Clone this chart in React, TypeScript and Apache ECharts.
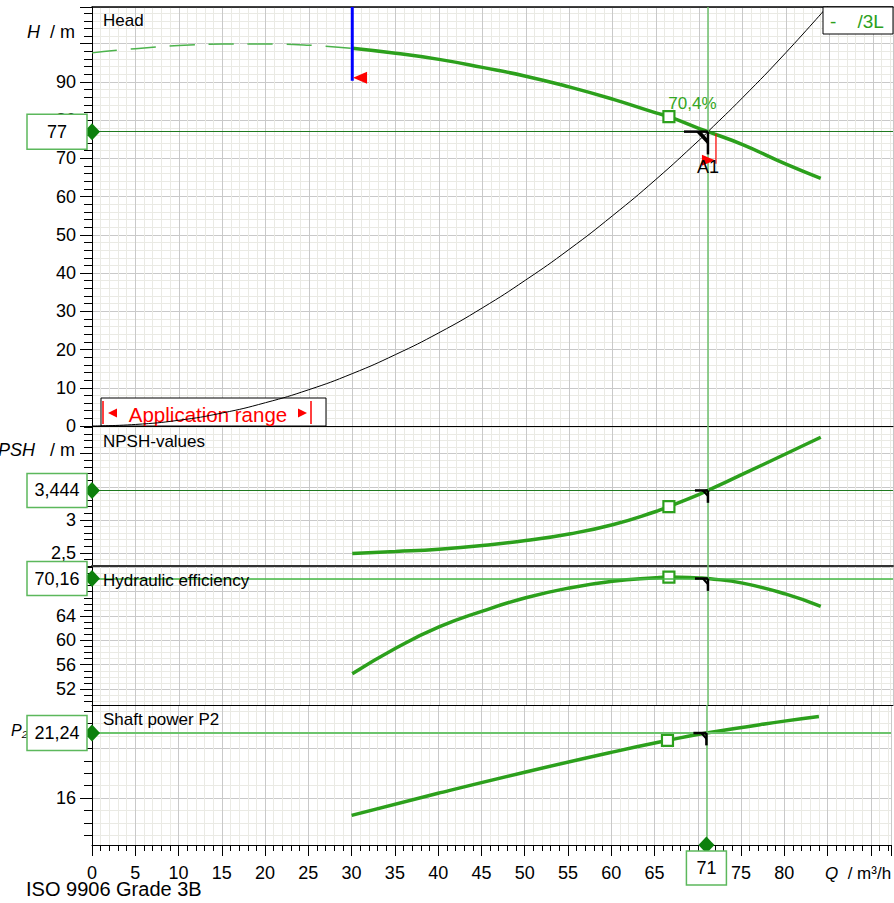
import React, { useEffect, useRef } from 'react';
import * as echarts from 'echarts';

// ---------- data ----------
const Q_MAX = 92.33;
const HEAD_MAX = 109.6;
const NPSH_MIN = 2.3;
const NPSH_MAX = 4.42;
const EFF_MIN = 49.37;
const EFF_MAX = 72.22;
const P_MIN = 12.21;
const P_MAX = 23.5;

const X_LABELS = [0, 5, 10, 15, 20, 25, 30, 35, 40, 45, 50, 55, 60, 65, 70, 75, 80];
const HEAD_LABELS = [0, 10, 20, 30, 40, 50, 60, 70, 80, 90];
const NPSH_MAJOR = [2.5, 3, 3.5, 4];
const NPSH_LABELS = [2.5, 3, 3.5];
const EFF_MAJOR = [52, 56, 60, 64, 68, 72];
const EFF_LABELS = [52, 56, 60, 64];
const EFF_MINOR = [50, 51, 52, 53, 54, 55, 56, 57, 58, 59, 60, 61, 62, 63, 64, 65, 66, 67, 68, 69, 70, 71, 72];
const P_MAJOR = [16, 20];
const P_LABELS = [16];
const P_MINOR = [13, 14, 15, 16, 17, 18, 19, 20, 21, 22, 23];

const HEAD_DASH_Q = [0, 5, 10, 15, 20, 25, 30];
const HEAD_DASH_H = [97.6, 98.7, 99.5, 99.9, 99.9, 99.6, 98.8];
const HEAD_Q = [30, 35, 40, 45, 50, 55, 60, 65, 66.5, 70, 71, 75, 80, 84];
const HEAD_H = [98.8, 97.5, 95.9, 93.8, 91.5, 88.7, 85.5, 81.9, 80.9, 77.8, 77, 73.6, 68.5, 64.8];

const SYS_Q = [0, 5, 10, 15, 20, 25, 30, 35, 40, 45, 50, 55, 60, 65, 70, 71, 75, 80, 85];
const SYS_H = [0, 0.4, 1.5, 3.4, 6.1, 9.5, 13.7, 18.7, 24.4, 30.9, 38.2, 46.2, 55.0, 64.5, 74.8, 77.0, 85.9, 97.7, 110.3];

const NPSH_Q = [30, 35, 40, 45, 50, 55, 60, 65, 66.5, 70, 71, 75, 80, 84];
const NPSH_V = [2.49, 2.52, 2.555, 2.61, 2.685, 2.785, 2.925, 3.125, 3.2, 3.385, 3.444, 3.69, 4.0, 4.25];

const EFF_Q = [30, 35, 40, 45, 50, 55, 60, 65, 66.5, 70, 71, 75, 80, 84];
const EFF_V = [54.5, 58.7, 62.2, 64.8, 67.0, 68.6, 69.7, 70.3, 70.4, 70.25, 70.16, 69.4, 67.6, 65.6];

const P_Q = [30, 40, 50, 60, 66.5, 71, 80, 84];
const P_V = [14.6, 16.38, 18.08, 19.68, 20.64, 21.24, 22.2, 22.58];

const OP_Q = 71;
const OP_H = 77;
const OP_NPSH = 3.444;
const OP_ETA = 70.16;
const OP_P = 21.24;
const BEP_Q = 66.5;
const BEP_H = 80.9;
const BEP_NPSH = 3.2;
const BEP_ETA = 70.4;
const BEP_P = 20.64;
const MIN_FLOW_Q = 30;
const MIN_FLOW_H = 90.3;
const MIN_FLOW_MARK = [30.9, 91.1];

// ---------- styles ----------
const GREEN = '#2ca01c';
const DARK_GREEN = '#0d800d';
const BOX_GREEN = '#5cb85c';
const MAJOR_GRID = '#c9c9c9';
const MINOR_GRID = '#eaeae4';
const FONT = '"Liberation Sans", Arial, Helvetica, sans-serif';

const zip = (xs: number[], ys: number[]) => xs.map((x, i) => [x, ys[i]]);
const comma = (v: number) => String(v).replace('.', ',');

const GRIDS = [
  { left: 92, right: 1, top: 7, height: 419 },
  { left: 92, right: 1, top: 426, height: 140 },
  { left: 92, right: 1, top: 566, height: 139 },
  { left: 92, right: 1, top: 705, height: 140 },
];

function xAxis(gi: number) {
  const bottom = gi === 3;
  return {
    type: 'value',
    gridIndex: gi,
    min: 0,
    max: Q_MAX,
    interval: 5,
    axisLine: { show: true, onZero: false, lineStyle: { color: gi === 1 ? '#333' : '#000', width: gi === 1 ? 2 : 1 } },
    axisTick: { show: bottom, length: 11, lineStyle: { color: '#000' } },
    minorTick: { show: bottom, splitNumber: 5, length: 6, lineStyle: { color: '#000' } },
    axisLabel: {
      show: bottom,
      fontSize: 18,
      color: '#000',
      fontFamily: FONT,
      margin: 19,
      formatter: (v: number) => (X_LABELS.includes(v) ? String(v) : ''),
    },
    splitLine: { show: true, lineStyle: { color: MAJOR_GRID, width: 1 } },
    minorSplitLine: { show: true, lineStyle: { color: MINOR_GRID, width: 1 } },
  };
}

const yBase = (gi: number, min: number, max: number) => ({
  type: 'value',
  gridIndex: gi,
  min,
  max,
  position: 'left',
  axisLine: { show: true, onZero: false, lineStyle: { color: '#000', width: 1 } },
});

const labelStyle = { fontSize: 18, color: '#000', fontFamily: FONT, margin: 16 };

function minorY(gi: number, min: number, max: number, extra: any) {
  return {
    ...yBase(gi, min, max),
    axisTick: { show: true, length: 8, lineStyle: { color: '#000' }, ...(extra.tick || {}) },
    axisLabel: { show: false },
    splitLine: { show: true, lineStyle: { color: MINOR_GRID } },
    ...(extra.axis || {}),
  };
}

function majorY(gi: number, min: number, max: number, ticks: number[], labels: number[]) {
  return {
    ...yBase(gi, min, max),
    axisTick: { show: true, length: 12, lineStyle: { color: '#000' }, customValues: ticks },
    axisLabel: { show: true, ...labelStyle, customValues: labels, formatter: (v: number) => comma(v) },
    splitLine: { show: true, lineStyle: { color: MAJOR_GRID } },
  };
}

const Y_AXES = [
  {
    ...yBase(0, 0, HEAD_MAX),
    interval: 10,
    axisTick: { show: true, length: 12, lineStyle: { color: '#000' } },
    minorTick: { show: true, splitNumber: 5, length: 8, lineStyle: { color: '#000' } },
    axisLabel: { show: true, ...labelStyle, formatter: (v: number) => (HEAD_LABELS.includes(v) ? String(v) : '') },
    splitLine: { show: true, lineStyle: { color: MAJOR_GRID } },
    minorSplitLine: { show: true, lineStyle: { color: MINOR_GRID } },
  },
  minorY(1, NPSH_MIN, NPSH_MAX, { axis: { interval: 0.1 } }),
  majorY(1, NPSH_MIN, NPSH_MAX, NPSH_MAJOR, NPSH_LABELS),
  minorY(2, EFF_MIN, EFF_MAX, { tick: { customValues: EFF_MINOR } }),
  majorY(2, EFF_MIN, EFF_MAX, EFF_MAJOR, EFF_LABELS),
  minorY(3, P_MIN, P_MAX, { tick: { customValues: P_MINOR } }),
  majorY(3, P_MIN, P_MAX, P_MAJOR, P_LABELS),
];

const mlBase = { silent: true, symbol: ['none', 'none'], label: { show: false }, animation: false };
const vLine = { xAxis: OP_Q, lineStyle: { color: '#6cbf6c', width: 1.5, type: 'solid' } };

function curve(gi: number, yi: number, data: number[][], hVal: number, hColor: string, hWidth: number) {
  return {
    type: 'line',
    xAxisIndex: gi,
    yAxisIndex: yi,
    data,
    smooth: true,
    showSymbol: false,
    lineStyle: { color: GREEN, width: 3.5 },
    z: 3,
    markLine: {
      ...mlBase,
      data: [{ yAxis: hVal, lineStyle: { color: hColor, width: hWidth, type: 'solid' } }, vLine],
    },
  };
}

function bepSquare(gi: number, yi: number, val: number, label?: string) {
  return {
    type: 'scatter',
    xAxisIndex: gi,
    yAxisIndex: yi,
    data: [[BEP_Q, val]],
    symbol: 'rect',
    symbolSize: 11,
    itemStyle: { color: '#fff', borderColor: GREEN, borderWidth: 2.2, opacity: 1 },
    z: 4,
    clip: false,
    label: label
      ? { show: true, formatter: label, position: [6, -15], color: '#33a622', fontSize: 17, fontFamily: FONT, align: 'left', verticalAlign: 'top', opacity: 1 }
      : { show: false },
  };
}

function diamond(gi: number, yi: number, pt: number[]) {
  return {
    type: 'scatter',
    xAxisIndex: gi,
    yAxisIndex: yi,
    data: [pt],
    symbol: 'diamond',
    symbolSize: [16, 17],
    itemStyle: { color: DARK_GREEN, opacity: 1 },
    clip: false,
    z: 6,
  };
}

function opSymbol(gi: number, yi: number, val: number, s: number) {
  return {
    type: 'custom',
    xAxisIndex: gi,
    yAxisIndex: yi,
    data: [[OP_Q, val]],
    clip: false,
    silent: true,
    z: 5,
    renderItem: (_p: any, api: any) => {
      const p = api.coord([api.value(0), api.value(1)]);
      return {
        type: 'group',
        x: p[0],
        y: p[1],
        children: [
          { type: 'line', shape: { x1: -s, y1: 0, x2: 0, y2: 0 }, style: { stroke: '#000', lineWidth: 2.5 } },
          { type: 'polygon', shape: { points: [[-s * 0.5, 0], [-s * 0.28, 0], [0, s * 0.32], [0, s * 0.55]] }, style: { fill: '#000' } },
          { type: 'line', shape: { x1: 0, y1: 0, x2: 0, y2: s * 0.95 }, style: { stroke: '#000', lineWidth: 2.5 } },
        ],
      };
    },
  };
}

function buildOption() {
  return {
    animation: false,
    backgroundColor: '#fff',
    grid: GRIDS,
    xAxis: [
      xAxis(0),
      xAxis(1),
      xAxis(2),
      xAxis(3),
      {
        type: 'value', gridIndex: 0, min: 0, max: Q_MAX, position: 'top',
        axisLine: { show: true, onZero: false, lineStyle: { color: '#000', width: 1.5 } },
        axisTick: { show: false }, axisLabel: { show: false }, splitLine: { show: false },
      },
    ],
    yAxis: Y_AXES,
    series: [
      {
        type: 'line', xAxisIndex: 0, yAxisIndex: 0, data: zip(HEAD_DASH_Q, HEAD_DASH_H), smooth: true, showSymbol: false,
        lineStyle: { color: '#4cb34c', width: 1.5, type: [25, 14] }, z: 3,
      },
      curve(0, 0, zip(HEAD_Q, HEAD_H), OP_H, '#1f7a1f', 1),
      {
        type: 'line', xAxisIndex: 0, yAxisIndex: 0, data: zip(SYS_Q, SYS_H), smooth: true, showSymbol: false,
        lineStyle: { color: '#000', width: 1 }, z: 3,
      },
      {
        type: 'line', xAxisIndex: 0, yAxisIndex: 0, data: [[MIN_FLOW_Q, MIN_FLOW_H], [MIN_FLOW_Q, HEAD_MAX]], showSymbol: false,
        lineStyle: { color: '#0000ff', width: 3 }, z: 4,
      },
      {
        type: 'scatter', xAxisIndex: 0, yAxisIndex: 0, data: [MIN_FLOW_MARK], symbol: 'triangle', symbolRotate: 90,
        symbolSize: [12, 14], itemStyle: { color: '#ff0000', opacity: 1 }, z: 4,
      },
      curve(1, 1, zip(NPSH_Q, NPSH_V), OP_NPSH, '#1f7a1f', 1),
      curve(2, 3, zip(EFF_Q, EFF_V), OP_ETA, '#44b844', 1.5),
      curve(3, 5, zip(P_Q, P_V), OP_P, '#6cc46c', 2),
      bepSquare(0, 0, BEP_H, '70,4%'),
      bepSquare(1, 1, BEP_NPSH),
      bepSquare(2, 3, BEP_ETA),
      bepSquare(3, 5, BEP_P),
      opSymbol(0, 0, OP_H, 24),
      opSymbol(1, 1, OP_NPSH, 13),
      opSymbol(2, 3, OP_ETA, 13),
      opSymbol(3, 5, OP_P, 13),
      {
        type: 'custom', xAxisIndex: 0, yAxisIndex: 0, data: [[OP_Q, OP_H]], clip: false, silent: true, z: 6,
        renderItem: (_p: any, api: any) => {
          const p = api.coord([api.value(0), api.value(1)]);
          return {
            type: 'group', x: p[0], y: p[1],
            children: [
              { type: 'line', shape: { x1: 8, y1: 2, x2: 8, y2: 32 }, style: { stroke: '#ff0000', lineWidth: 1.2 } },
              { type: 'polygon', shape: { points: [[-6, 23], [7, 28.5], [-6, 34]] }, style: { fill: '#ff0000' } },
              { type: 'text', x: 0, y: 35, style: { text: 'A1', fontSize: 18, fontFamily: FONT, fill: '#000', align: 'center', verticalAlign: 'middle' } },
            ],
          };
        },
      },
      diamond(0, 0, [0, OP_H]),
      diamond(1, 1, [0, OP_NPSH]),
      diamond(2, 3, [0, OP_ETA]),
      diamond(3, 5, [0, OP_P]),
      diamond(3, 5, [OP_Q, P_MIN]),
    ],
  };
}

function valueBox(cx: number, cy: number, w: number, h: number, text: string) {
  return {
    type: 'group',
    z: 100,
    children: [
      { type: 'rect', shape: { x: cx - w / 2, y: cy - h / 2, width: w, height: h }, style: { fill: '#fff', stroke: BOX_GREEN, lineWidth: 1.5 }, z: 100 },
      { type: 'text', x: cx, y: cy, style: { text, fontSize: 18, fontFamily: FONT, fill: '#000', align: 'center', verticalAlign: 'middle' }, z: 101 },
    ],
  };
}

function txt(x: number, y: number, text: string, extra: any = {}) {
  return {
    type: 'text', x, y, z: 100,
    style: { text, fontSize: 17, fontFamily: FONT, fill: '#000', align: 'left', verticalAlign: 'middle', ...extra },
  };
}

export default function App() {
  const ref = useRef<HTMLDivElement>(null);
  useEffect(() => {
    if (!ref.current) return;
    const chart = echarts.init(ref.current, undefined, { renderer: 'svg' });
    chart.setOption(buildOption() as any);

    const yH = chart.convertToPixel({ yAxisIndex: 0 } as any, OP_H) as number;
    const yN = chart.convertToPixel({ yAxisIndex: 1 } as any, OP_NPSH) as number;
    const yE = chart.convertToPixel({ yAxisIndex: 3 } as any, OP_ETA) as number;
    const yP = chart.convertToPixel({ yAxisIndex: 5 } as any, OP_P) as number;
    const xQ = chart.convertToPixel({ xAxisIndex: 3 } as any, OP_Q) as number;
    const x0 = chart.convertToPixel({ xAxisIndex: 3 } as any, 0) as number;
    const yBottom = chart.convertToPixel({ yAxisIndex: 5 } as any, P_MIN) as number;

    const italic = { i: { fontStyle: 'italic', fontSize: 18, fontFamily: FONT, fill: '#000' } };

    const graphic: any[] = [
      // application range box (beneath curves)
      {
        type: 'group', z: 1,
        children: [
          { type: 'rect', shape: { x: x0 + 9, y: 398, width: 225, height: 28 }, style: { fill: '#fff', stroke: '#000', lineWidth: 1 }, z: 1 },
          { type: 'line', shape: { x1: x0 + 11, y1: 401, x2: x0 + 11, y2: 424 }, style: { stroke: '#ff0000', lineWidth: 1.5 }, z: 1 },
          { type: 'line', shape: { x1: x0 + 219, y1: 401, x2: x0 + 219, y2: 424 }, style: { stroke: '#ff0000', lineWidth: 1.5 }, z: 1 },
          { type: 'polygon', shape: { points: [[x0 + 16, 413], [x0 + 25, 408.5], [x0 + 25, 417.5]] }, style: { fill: '#ff0000' }, z: 1 },
          { type: 'polygon', shape: { points: [[x0 + 215, 413], [x0 + 206, 408.5], [x0 + 206, 417.5]] }, style: { fill: '#ff0000' }, z: 1 },
          { type: 'text', x: x0 + 116, y: 414, style: { text: 'Application range', fontSize: 20.5, fontFamily: FONT, fill: '#ff0000', align: 'center', verticalAlign: 'middle' }, z: 1 },
        ],
      },
      // panel titles
      txt(103, 20, 'Head'),
      txt(103, 441, 'NPSH-values'),
      txt(103, 580, 'Hydraulic efficiency'),
      txt(103, 719, 'Shaft power P2'),
      // axis names
      { type: 'text', x: 75, y: 32, z: 100, style: { text: '{i|H}  / m', rich: italic, fontSize: 18, fontFamily: FONT, fill: '#000', align: 'right', verticalAlign: 'middle' } },
      { type: 'text', x: 75, y: 450, z: 100, style: { text: '{i|NPSH}   / m', rich: italic, fontSize: 18, fontFamily: FONT, fill: '#000', align: 'right', verticalAlign: 'middle' } },
      { type: 'text', x: 11, y: 730, z: 99, style: { text: '{i|P₂}', rich: { i: { fontStyle: 'italic', fontSize: 16, fontFamily: FONT, fill: '#000' } }, align: 'left', verticalAlign: 'middle' } },
      { type: 'text', x: 825, y: 873, z: 100, style: { text: '{i|Q}  / m³/h', rich: { i: { fontStyle: 'italic', fontSize: 17, fontFamily: FONT, fill: '#000' } }, fontSize: 17, fontFamily: FONT, fill: '#000', align: 'left', verticalAlign: 'middle' } },
      { type: 'text', x: 26, y: 889, z: 100, style: { text: 'ISO 9906 Grade 3B', fontSize: 20, fontFamily: FONT, fill: '#000', align: 'left', verticalAlign: 'middle' } },
      // legend box
      {
        type: 'group', z: 100,
        children: [
          { type: 'rect', shape: { x: 823, y: 7, width: 70, height: 27 }, style: { fill: '#fff', stroke: '#000', lineWidth: 1 }, z: 100 },
          { type: 'text', x: 830, y: 21, style: { text: '-    /3L', fontSize: 19, fontFamily: FONT, fill: GREEN, align: 'left', verticalAlign: 'middle' }, z: 101 },
        ],
      },
      // value boxes
      valueBox(57, yH, 60, 35, comma(OP_H)),
      valueBox(57, yN, 60, 34, comma(OP_NPSH)),
      valueBox(57, yE, 60, 34, comma(OP_ETA)),
      valueBox(57, yP, 60, 35, comma(OP_P)),
      valueBox(xQ, yBottom + 23, 40, 34, String(OP_Q)),
    ];
    chart.setOption({ graphic } as any);
    return () => chart.dispose();
  }, []);
  return <div ref={ref} style={{ position: 'fixed', left: 0, top: 0, width: 894, height: 903, background: '#fff' }} />;
}
